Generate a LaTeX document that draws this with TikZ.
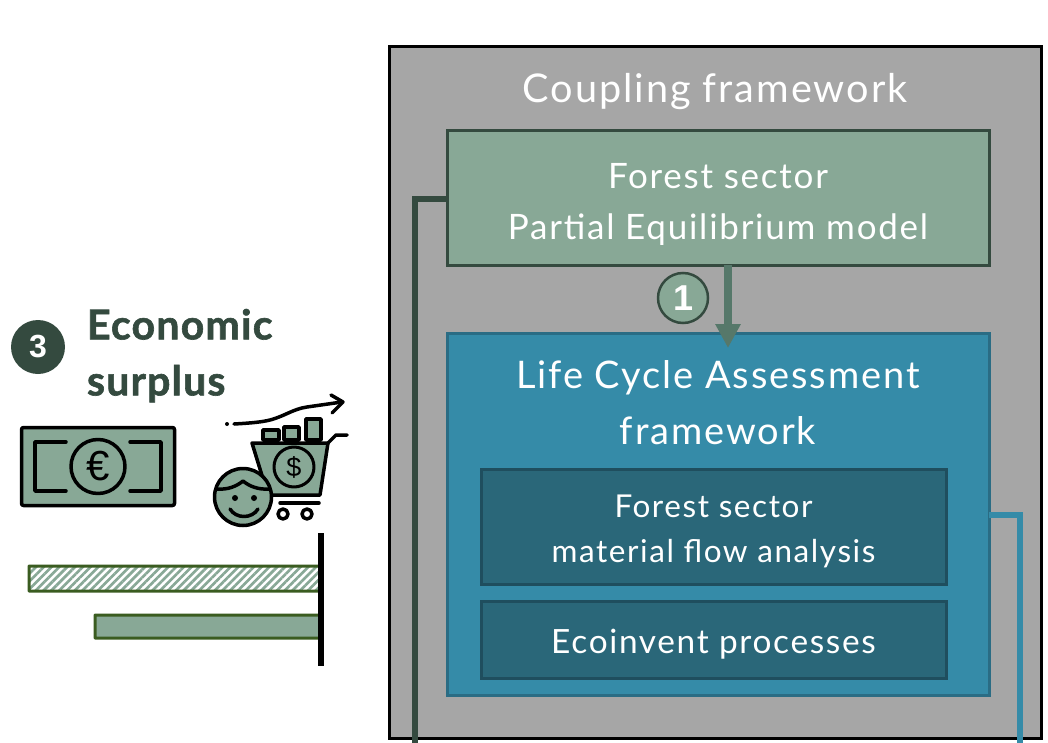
\documentclass[tikz,border=0pt]{standalone}
\usepackage{fontspec}
\setmainfont[LetterSpace=5]{Lato}
\newfontfamily\headfont[LetterSpace=3,FakeBold=1.5]{Lato}
\newfontfamily\digitfont{Liberation Sans}
\usetikzlibrary{positioning,arrows.meta,patterns.meta}

\definecolor{sage}{HTML}{88A896}
\definecolor{pine}{HTML}{344A3F}
\definecolor{moss}{HTML}{3A5C20}
\definecolor{arrowgreen}{HTML}{56786A}
\definecolor{frameback}{HTML}{A6A6A6}
\definecolor{lcablue}{HTML}{358BA8}
\definecolor{lcaedge}{HTML}{2A6C84}
\definecolor{innerblue}{HTML}{2A6779}
\definecolor{inneredge}{HTML}{1F4E5E}

\tikzset{
    every node/.style={outer sep=0pt},
    boxtext/.style={text=white, align=center, font=\fontsize{#1}{#1}\selectfont},
    innerbox/.style={draw=inneredge, fill=innerblue, line width=3pt, minimum width=465pt, inner sep=0pt},
    icon/.style={draw=black, line width=3.5pt, line join=round, line cap=round},
    valuebar/.style={draw=moss, line width=3pt, rounded corners=0.5pt},
}

\begin{document}
\begin{tikzpicture}[x=1pt, y=-1pt, >=stealth, node distance=0pt]
    \useasboundingbox (0,0) rectangle (1048,743);

    % Boxes {frame, forest, lca, mfa, ecoinvent}
    \node [draw=black, fill=frameback, line width=3pt, minimum width=652pt, minimum height=691pt, inner sep=0pt, anchor=north west] (frame) at (389,47) {};
    \node [boxtext=39.6] (frametitle) at (715,92) {Coupling framework};
    \node [draw=pine, fill=sage, line width=3pt, minimum width=542pt, minimum height=134pt, inner sep=0pt, anchor=north west] (forest) at (447,131) {};
    \node [boxtext=35, yshift=-6pt] (foresttext) at (forest.center) {Forest sector\\[16pt]Partial Equilibrium model};
    \node [draw=lcaedge, fill=lcablue, line width=3pt, minimum width=542pt, minimum height=362pt, inner sep=0pt] (lca) [below=68pt of forest] {};
    \node [boxtext=38] (lcatitle) [below=24pt of lca.north] {Life Cycle Assessment\\[18pt]framework};
    \node [innerbox, minimum height=115pt, anchor=north west] (mfa) at (481,469) {};
    \node [boxtext=31.5, yshift=-5pt] (mfatext) at (mfa.center) {Forest sector\\[14pt]material flow analysis};
    \node [innerbox, minimum height=77pt] (ecoinvent) [below=17pt of mfa] {};
    \node [boxtext=33.4, yshift=-5pt] (ecoinventtext) at (ecoinvent.center) {Ecoinvent processes};

    % Free ends at the bottom edge
    \coordinate (leftend) at (415,743);
    \coordinate (rightend) at (1020,743);
    \coordinate (arrowend) at (728,348);

    % Paths
    \draw [pine, line width=5.5pt] (forest.west |- 0,199) -- (leftend |- 0,199) -- (leftend);
    \draw [lcablue, line width=5.5pt] (lca.east |- 0,515) -- (rightend |- 0,515) -- (rightend);
    \draw [-{Triangle[length=24pt,width=24pt]}, arrowgreen, line width=8pt] (arrowend |- forest.south) -- (arrowend);
    \node [circle, draw=pine, fill=sage, line width=2.5pt, minimum size=50pt, inner sep=0pt, text=white, font=\digitfont\bfseries\fontsize{36}{36}\selectfont] (one) at (683,298) {1};

    % Economic surplus heading
    \node [circle, fill=pine, minimum size=54pt, inner sep=0pt, text=white, font=\digitfont\bfseries\fontsize{32}{32}\selectfont] (three) at (38,347) {3};
    \node [text=pine, align=left, inner sep=0pt, anchor=north west, font=\headfont\bfseries\fontsize{41}{56}\selectfont] (surplus) at (87,309) {Economic\\surplus};

    % Bank note
    \node [icon, fill=sage, rounded corners=2pt, minimum width=153pt, minimum height=78pt, inner sep=0pt] (note) at (98,466.5) {};
    \draw [icon] (66,442) -- (35,442) -- (35,491) -- (66,491);
    \draw [icon] (130,442) -- (161,442) -- (161,491) -- (130,491);
    \node [icon, circle, minimum size=54pt, inner sep=0pt, font=\digitfont\fontsize{42}{42}\selectfont] (euro) at (note.center) {€};

    % Trend
    \fill (227,424) circle (2pt);
    \draw [icon] (234,424) .. controls (252,423) and (262,422) .. (270,420) .. controls (285,416) and (293,409) .. (307,407) -- (342,402);
    \draw [icon] (331,395) -- (343,402) -- (332,413);

    % Trolley
    \draw [icon, fill=sage] (263,440) rectangle (279,430);
    \draw [icon, fill=sage] (284,440) rectangle (299,427);
    \draw [icon, fill=sage] (306,440) rectangle (321,419);
    \draw [icon, fill=sage] (252,443) -- (328,443) -- (320,495) -- (268,495) -- cycle;
    \draw [icon] (328,443) -- (336,435) -- (347,435);
    \draw [icon] (280,503) -- (319,503);
    \draw [icon] (283,514) circle (5pt);
    \draw [icon] (307,514) circle (5pt);
    \node [icon, line width=3pt, circle, minimum size=40pt, inner sep=0pt, font=\digitfont\fontsize{27}{27}\selectfont] (dollar) at (294,467) {\$};

    % Face
    \draw [icon, fill=sage] (243,497) circle (28.5pt);
    \draw [icon] (217,489) .. controls (228,490) and (237,486) .. (243,481) .. controls (249,486) and (258,490) .. (270,489);
    \fill (235,498) circle (3pt);
    \fill (254,498) circle (3pt);
    \draw [icon] (230,509) .. controls (236,519) and (252,519) .. (258,509);

    % Bars
    \node [valuebar, pattern={Lines[angle=45,distance=5.5pt,line width=2.7pt]}, pattern color=sage, minimum width=292pt, minimum height=25pt, inner sep=0pt, anchor=north west] (refbar) at (29,566) {};
    \node [valuebar, fill=sage, minimum width=225pt, minimum height=23pt, inner sep=0pt, anchor=north west] (valuenow) at (95,615) {};
    \coordinate (axistop) at (321,533);
    \coordinate (axisbottom) at (321,666);
    \draw [black, line width=6pt] (axistop) -- (axisbottom);
\end{tikzpicture}
\end{document}
